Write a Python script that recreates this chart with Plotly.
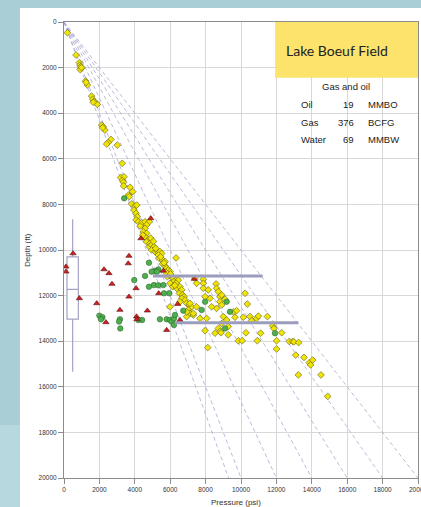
import plotly.graph_objects as go

# Pressure (psi) / depth (ft) measurements, by fluid type
gas_oil_psi = [190, 680, 870, 900, 940, 970, 920, 990, 1220, 1320, 1250,
               1560, 1620, 1700, 1790, 1880, 1650, 2130, 2220, 2310, 2180,
               2650, 2500, 2410, 3010, 3290, 3200, 3390, 3300, 3360, 3370,
               3730, 3880, 3650, 3690, 3820, 4010, 4110, 3950, 4070, 4140,
               4070, 4200, 4390, 4580, 4820, 4670, 4580, 4480, 4670, 4580,
               4760, 4670, 4860, 4820, 4950, 5080, 4950, 5140, 5240, 5420,
               5520, 5330, 5390, 5570, 5710, 5570, 5710, 5800, 5890, 5990,
               5950, 5840, 6080, 6180, 6370, 6210, 6460, 6330, 5990, 6140,
               6370, 6550, 6650, 6520, 6700, 6780, 6650, 6840, 6550, 6930,
               7080, 7210, 7020, 7120, 6930, 7310, 6330, 5990, 8120,
               7400, 7870, 7870, 7490, 7870, 8150, 8590, 8620, 8720, 8810,
               8910, 9100, 8810, 8910, 8620, 8250, 7970, 8340,
               10230, 10360, 9570, 9750, 9660, 10130, 10510, 10880, 10980,
               11490, 10600, 7120, 7490, 6930, 7310, 7680, 8060,
               9000, 9190, 8910, 8720, 9280, 8810, 7970, 8530, 8870, 9280,
               9850, 10070, 10280, 10920, 11110, 12010, 12010, 12300, 12730,
               12920, 12990, 13260, 13090, 13560, 13860, 13930, 14050, 13240,
               14520, 14900, 11790, 11860,
               4300, 4450, 4900, 5050, 5180, 5460, 5650, 5760, 6020, 6260]
gas_oil_ft = [470, 1450, 1780, 1890, 1960, 2030, 2090, 2000, 2590, 2760, 2650,
              3250, 3390, 3480, 3540, 3610, 3520, 4520, 4600, 4740, 4640,
              5150, 5290, 5350, 5400, 6200, 6820, 6790, 6950, 7030, 7190,
              7250, 7440, 7590, 7660, 7980, 8070, 8030, 8250, 8390, 8540,
              8680, 8760, 8800, 8760, 8760, 8900, 9050, 9200, 9270, 9420,
              9560, 9640, 9710, 9850, 9780, 9850, 10000, 10070, 10030, 10070,
              10150, 10220, 10370, 10440, 10510, 10610, 10700, 10800, 10880, 10950,
              11100, 11170, 11170, 11240, 11290, 11390, 11320, 11460, 11460, 11610,
              11680, 11610, 11750, 11900, 11970, 12050, 12120, 12190, 12270, 12340,
              12410, 12490, 12630, 12780, 12920, 12850, 10350, 12490, 14280,
              11240, 11290, 11460, 11460, 11680, 11750, 11490, 11680, 11830, 12050,
              11970, 12160, 12270, 12410, 12560, 12120, 12050, 12490,
              11900, 12370, 12710, 12660, 12950, 12950, 12920, 13000, 12900,
              12920, 13100, 12340, 12490, 12710, 12780, 13000, 13000,
              12920, 13070, 13220, 13440, 13360, 13580, 13540, 13650, 13630, 13720,
              13980, 13980, 13630, 13980, 13650, 13980, 14340, 13630, 14010,
              14010, 14030, 14060, 14610, 14710, 14940, 15040, 14830, 15480,
              15480, 16420, 13330, 13440,
              8950, 9350, 9480, 9620, 9930, 10300, 10560, 10980, 11050, 11550]

gas_psi = [3400, 4800, 5330, 5140, 5250, 4580, 3970, 5080, 4800, 5330, 5610,
           5650, 5950, 2000, 2170, 2090, 3160, 3110, 3180, 4410, 4200, 5420,
           5800, 5990, 6080, 6210, 6270, 6210, 6740, 7780, 7970, 9190, 9380,
           9100, 11920, 4950]
gas_ft = [7730, 10560, 10850, 10910, 10950, 11140, 11320, 11540, 11610, 11550,
          11540, 11900, 11900, 12880, 12950, 13040, 13040, 13140, 13440, 13070,
          13070, 13040, 13040, 13070, 13140, 13000, 12850, 13290, 12660, 12630,
          12270, 12270, 12710, 13440, 13650, 10950]

water_psi = [4900, 4350, 3670, 3630, 2260, 2540, 2710, 4070, 3670, 1850, 5350,
             3160, 4710, 2370, 4100, 4120, 5800, 510, 110, 110, 870, 5610,
             6420, 7360, 6550]
water_ft = [8610, 9490, 10260, 10590, 10850, 11020, 11490, 11680, 12050, 12340,
            11900, 12630, 12660, 13170, 12920, 13040, 13510, 10150, 10730, 10950,
            12120, 10910, 12370, 11270, 13070]

# Pressure gradients (psi/ft) drawn as reference lines from the surface
gradients = [0.465, 0.5, 0.6, 0.7, 0.8, 0.9, 1.0]
max_depth = 20000

# Depth distribution summary of the samples
box_psi = 490
box_stats = dict(lowerfence=8650, q1=10300, median=11730, q3=13030, upperfence=15340)

# Two horizontal markers: (depth, start psi, end psi)
markers = [(11140, 5030, 11225), (13190, 6270, 13240)]

# Field summary table
field_name = "Lake Boeuf Field"
table_heading = "Gas and oil"
table_rows = [("Oil", "19", "MMBO"), ("Gas", "376", "BCFG"), ("Water", "69", "MMBW")]

fig = go.Figure()

fig.add_trace(go.Box(
    x=[box_psi], q1=[box_stats["q1"]], median=[box_stats["median"]],
    q3=[box_stats["q3"]], lowerfence=[box_stats["lowerfence"]],
    upperfence=[box_stats["upperfence"]], width=640, whiskerwidth=0,
    fillcolor="white", line=dict(color="#A3A3C6", width=1.2),
    boxpoints=False, showlegend=False, hoverinfo="skip"))

for g in gradients:
    fig.add_trace(go.Scatter(
        x=[0, g * max_depth], y=[0, max_depth], mode="lines",
        line=dict(color="#A9A9D2", width=0.8, dash="4px,3px"),
        showlegend=False, hoverinfo="skip"))

fig.add_trace(go.Scatter(
    x=gas_oil_psi, y=gas_oil_ft, mode="markers",
    marker=dict(symbol="diamond", size=5.2, color="#F0E400",
                line=dict(color="#5E5E28", width=0.6)),
    showlegend=False))
fig.add_trace(go.Scatter(
    x=gas_psi, y=gas_ft, mode="markers",
    marker=dict(symbol="circle", size=5.5, color="#4FAF4F",
                line=dict(color="#2F6A2F", width=0.6)),
    showlegend=False))
fig.add_trace(go.Scatter(
    x=water_psi, y=water_ft, mode="markers",
    marker=dict(symbol="triangle-up", size=5.5, color="#D01F1F",
                line=dict(color="#5A1010", width=0.6)),
    showlegend=False))

for depth, p0, p1 in markers:
    fig.add_trace(go.Scatter(
        x=[p0, p1], y=[depth, depth], mode="lines",
        line=dict(color="#9C9CBE", width=3),
        showlegend=False, hoverinfo="skip"))

axis_common = dict(
    showgrid=True, gridcolor="#D8D8D8", gridwidth=1,
    showline=True, linecolor="#8C8C8C", linewidth=1, mirror=True,
    ticks="outside", tickcolor="#8C8C8C", ticklen=5,
    tickfont=dict(family="Liberation Sans", size=6.5, color="#333333"),
    zeroline=False, tickformat="d", ticklabeloverflow="allow",
    automargin=False,
    tickvals=list(range(0, 20001, 2000)),
)

fig.update_layout(
    width=421, height=507,
    margin=dict(l=64, r=3, t=22, b=29),
    paper_bgcolor="#A9CED5",
    plot_bgcolor="white",
    xaxis=dict(range=[0, 20000], **axis_common),
    yaxis=dict(range=[20000, 0], **axis_common),
    shapes=[
        dict(type="rect", xref="paper", yref="paper", x0=-0.1243, x1=1.05,
             y0=-0.08, y1=1.0307, fillcolor="white", line=dict(width=0),
             layer="below"),
        dict(type="rect", xref="paper", yref="paper", x0=-0.2, x1=-0.1243,
             y0=-0.08, y1=0.116, fillcolor="#B7D8DE", line=dict(width=0),
             layer="below"),
        dict(type="rect", xref="x", yref="y", x0=11930, x1=20000, y0=0, y1=2440,
             fillcolor="#FBE36C", line=dict(width=0), layer="above"),
    ],
)

annotations = [
    dict(x=15405, y=1263, xref="x", yref="y", text=field_name, showarrow=False,
         font=dict(family="Lato", size=14, color="#222222"),
         xanchor="center", yanchor="middle"),
    dict(x=15950, y=2807, xref="x", yref="y", text=table_heading, showarrow=False,
         font=dict(family="Liberation Sans", size=9.5, color="#222222"),
         xanchor="center", yanchor="middle"),
    dict(x=-0.1045, y=0.5, xref="paper", yref="paper", text="Depth (ft)",
         textangle=-90, showarrow=False,
         font=dict(family="Liberation Sans", size=8, color="#333333"),
         xanchor="center", yanchor="middle"),
    dict(x=0.486, y=-0.0548, xref="paper", yref="paper", text="Pressure (psi)",
         showarrow=False, font=dict(family="Liberation Sans", size=8, color="#333333"),
         xanchor="center", yanchor="middle"),
]
row_depths = [3610, 4399, 5175]
for (label, value, unit), d in zip(table_rows, row_depths):
    f = dict(family="Liberation Sans", size=9.5, color="#222222")
    annotations.append(dict(x=13277, y=d, xref="x", yref="y", text=label,
                            showarrow=False, font=f, xanchor="left", yanchor="middle"))
    annotations.append(dict(x=16497, y=d, xref="x", yref="y", text=value,
                            showarrow=False, font=f, xanchor="right", yanchor="middle"))
    annotations.append(dict(x=17062, y=d, xref="x", yref="y", text=unit,
                            showarrow=False, font=f, xanchor="left", yanchor="middle"))
fig.update_layout(annotations=annotations)

fig.write_html("out.html")
